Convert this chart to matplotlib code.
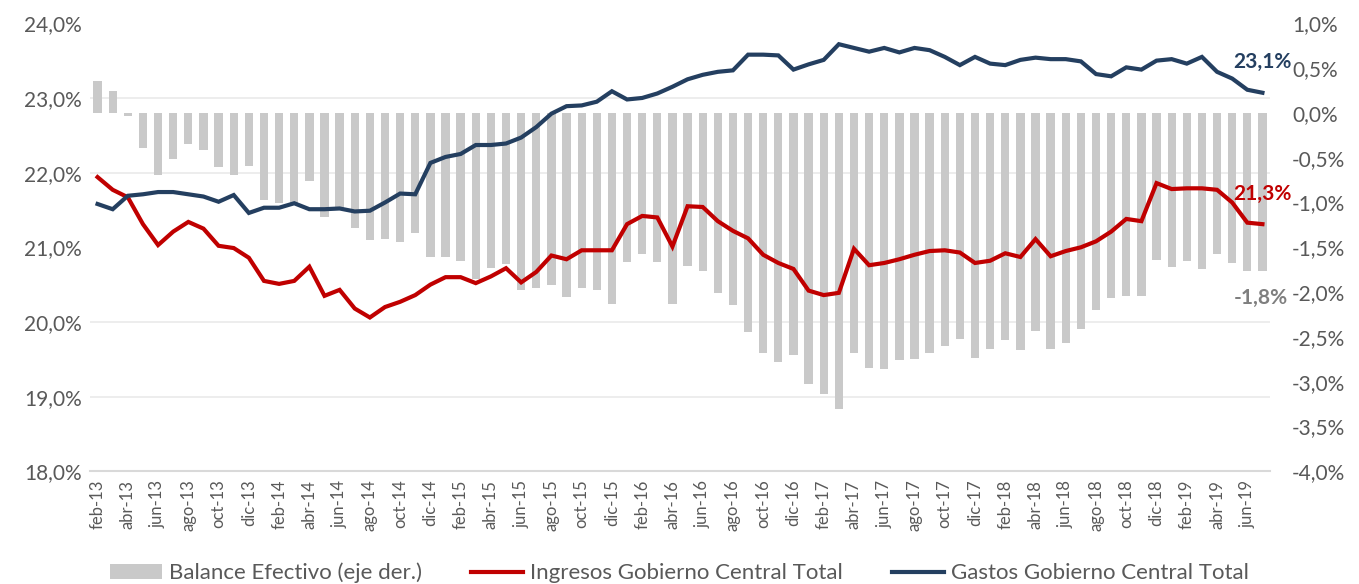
import matplotlib
matplotlib.use("Agg")
import matplotlib.pyplot as plt
from matplotlib.ticker import FixedLocator, FuncFormatter
from matplotlib.patches import Patch
from matplotlib.lines import Line2D
import numpy as np

plt.rcParams['font.family'] = ['Lato', 'DejaVu Sans']

# ---- data ----
months_es = ['ene', 'feb', 'mar', 'abr', 'may', 'jun', 'jul', 'ago', 'sep', 'oct', 'nov', 'dic']
dates = []
y, m = 2013, 2
while (y, m) <= (2019, 7):
    dates.append(f"{months_es[m-1]}-{str(y)[2:]}")
    m += 1
    if m > 12:
        m = 1
        y += 1

balance = [0.36, 0.25, -0.03, -0.39, -0.69, -0.52, -0.35, -0.41, -0.60, -0.69,
           -0.59, -0.97, -1.01, -1.00, -0.76, -1.16, -1.06, -1.29, -1.42, -1.41,
           -1.44, -1.34, -1.61, -1.61, -1.65, -1.85, -1.73, -1.69, -1.98, -1.95,
           -1.92, -2.05, -1.95, -1.98, -2.13, -1.66, -1.58, -1.66, -2.13, -1.71,
           -1.77, -2.01, -2.14, -2.45, -2.68, -2.78, -2.70, -3.03, -3.14, -3.31,
           -2.68, -2.85, -2.86, -2.76, -2.75, -2.68, -2.60, -2.52, -2.73, -2.64,
           -2.54, -2.65, -2.43, -2.63, -2.57, -2.41, -2.20, -2.07, -2.04, -2.04,
           -1.64, -1.72, -1.65, -1.74, -1.58, -1.67, -1.76, -1.77]

ingresos = [21.94, 21.77, 21.67, 21.31, 21.03, 21.21, 21.34, 21.25, 21.02, 20.99,
            20.86, 20.55, 20.51, 20.55, 20.74, 20.35, 20.43, 20.18, 20.06, 20.20,
            20.27, 20.36, 20.50, 20.60, 20.60, 20.52, 20.61, 20.72, 20.53, 20.67,
            20.89, 20.84, 20.96, 20.96, 20.96, 21.31, 21.42, 21.40, 21.01, 21.55,
            21.54, 21.35, 21.22, 21.12, 20.90, 20.79, 20.71, 20.42, 20.36, 20.39,
            20.98, 20.76, 20.79, 20.84, 20.90, 20.95, 20.96, 20.93, 20.79, 20.82,
            20.92, 20.87, 21.11, 20.88, 20.95, 21.00, 21.08, 21.21, 21.38, 21.35,
            21.86, 21.78, 21.79, 21.79, 21.77, 21.60, 21.33, 21.31]

gastos = [21.58, 21.51, 21.69, 21.71, 21.74, 21.74, 21.71, 21.68, 21.61, 21.70,
          21.46, 21.53, 21.53, 21.59, 21.51, 21.51, 21.52, 21.48, 21.49, 21.60,
          21.72, 21.71, 22.13, 22.21, 22.25, 22.37, 22.37, 22.39, 22.47, 22.61,
          22.79, 22.89, 22.90, 22.95, 23.09, 22.98, 23.00, 23.06, 23.15, 23.25,
          23.31, 23.35, 23.37, 23.58, 23.58, 23.57, 23.38, 23.45, 23.51, 23.72,
          23.67, 23.62, 23.67, 23.61, 23.67, 23.64, 23.55, 23.44, 23.55, 23.46,
          23.44, 23.51, 23.54, 23.52, 23.52, 23.49, 23.32, 23.29, 23.41, 23.38,
          23.50, 23.52, 23.46, 23.55, 23.35, 23.26, 23.11, 23.07]

label_gastos = "23,1%"
label_ingresos = "21,3%"
label_balance = "-1,8%"

left_ticks = [18, 19, 20, 21, 22, 23, 24]
right_ticks = [-4.0, -3.5, -3.0, -2.5, -2.0, -1.5, -1.0, -0.5, 0.0, 0.5, 1.0]

# ---- style ----
c_bar = '#c9c9c9'
c_red = '#c00000'
c_blue = '#243f60'
c_txt = '#595959'

fig = plt.figure(figsize=(13.59, 5.84), dpi=100)
ax = fig.add_axes([90/1359, 1 - 471.3/584, (1270-90)/1359, (471.3-23.3)/584])
ax2 = ax.twinx()
ax.set_zorder(ax2.get_zorder() + 1)
ax.patch.set_visible(False)

x = np.arange(len(dates))

ax2.bar(x, balance, width=0.55, color=c_bar, zorder=2)
ax.plot(x, ingresos, color=c_red, lw=3.0, solid_joinstyle='miter', zorder=3)
ax.plot(x, gastos, color=c_blue, lw=3.0, solid_joinstyle='miter', zorder=3)

ax.set_xlim(-0.5, len(dates) - 0.5)
ax.set_ylim(18, 24)
ax2.set_ylim(-4, 1)

pct = lambda v, p: f"{v:.1f}%".replace('.', ',')
ax.yaxis.set_major_locator(FixedLocator(left_ticks))
ax.yaxis.set_major_formatter(FuncFormatter(pct))
ax2.yaxis.set_major_locator(FixedLocator(right_ticks))
ax2.yaxis.set_major_formatter(FuncFormatter(pct))

# gridlines at left-axis levels, drawn behind bars
grid_right = [-4 + (v - 18) * 5 / 6 for v in left_ticks]
ax2.yaxis.set_minor_locator(FixedLocator(grid_right))
ax2.grid(which='minor', axis='y', color='#ececec', lw=1.3, zorder=0)
ax2.set_axisbelow(True)
ax2.tick_params(which='minor', length=0)

ax.set_xticks(x[::2])
ax.set_xticklabels(dates[::2], rotation=90)

for a in (ax, ax2):
    for s in a.spines.values():
        s.set_visible(False)
ax.spines['bottom'].set_visible(True)
ax.spines['bottom'].set_color('#d9d9d9')
ax.spines['bottom'].set_linewidth(1.5)

ax.tick_params(axis='y', length=0, pad=6, labelsize=15, labelcolor=c_txt)
ax2.tick_params(axis='y', which='major', length=0, pad=16, labelsize=15, labelcolor=c_txt)
ax.tick_params(axis='x', length=0, pad=6, labelsize=12, labelcolor=c_txt)

# end labels
n = len(dates) - 1
ax.annotate(label_gastos, (x[n], gastos[n]), xytext=(0, 22), textcoords='offset points',
            ha='center', va='center', fontsize=15, fontweight='bold', color=c_blue)
ax.annotate(label_ingresos, (x[n], ingresos[n]), xytext=(0, 22), textcoords='offset points',
            ha='center', va='center', fontsize=15, fontweight='bold', color=c_red)
ax2.annotate(label_balance, (x[n], balance[n]), xytext=(-1, -19), textcoords='offset points',
             ha='center', va='center', fontsize=15, fontweight='bold', color='#7f7f7f')

handles = [Patch(facecolor=c_bar, edgecolor='none'),
           Line2D([0], [0], color=c_red, lw=3),
           Line2D([0], [0], color=c_blue, lw=3)]
labels = ['Balance Efectivo (eje der.)', 'Ingresos Gobierno Central Total',
          'Gastos Gobierno Central Total']
leg = fig.legend(handles, labels, loc='center', bbox_to_anchor=(0.5, 1 - 573/584), ncol=3,
                 frameon=False, fontsize=16, handlelength=2.35, handletextpad=0.32,
                 columnspacing=2.2, labelcolor=c_txt)

fig.savefig('out.png', dpi=100)
